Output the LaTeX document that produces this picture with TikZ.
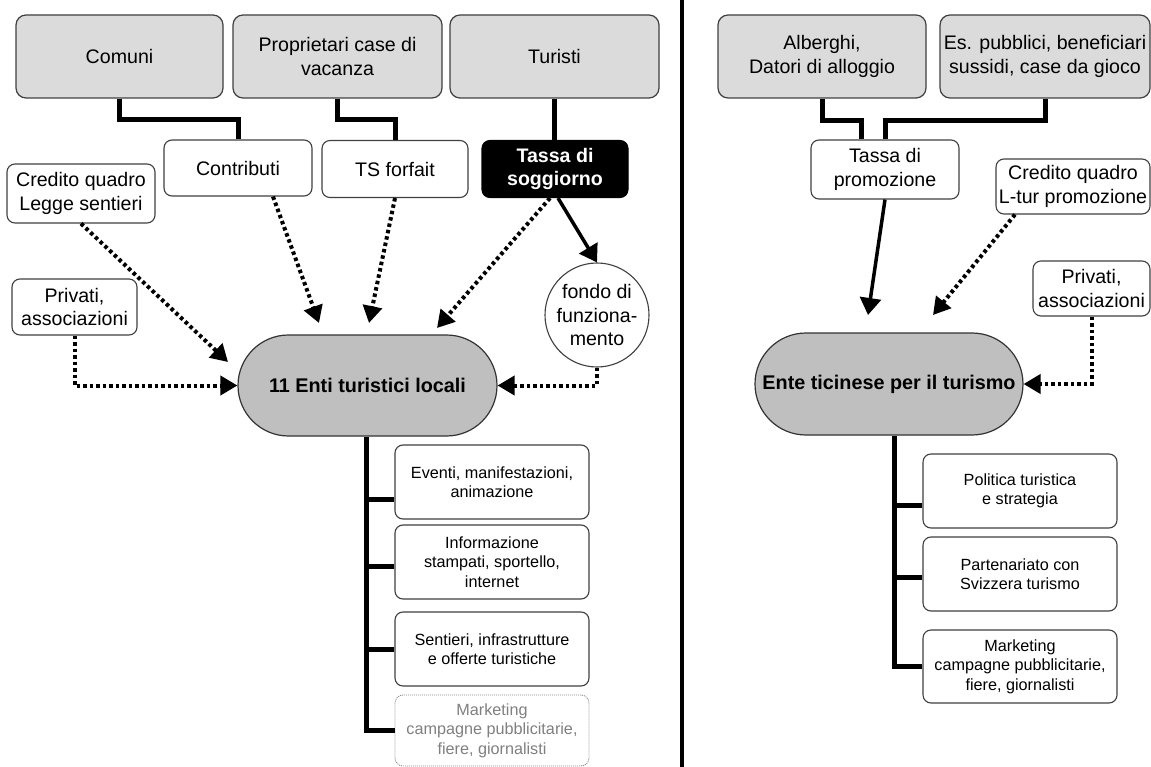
\documentclass[tikz,border=0pt]{standalone}
\usepackage{fontspec}
\setmainfont{Liberation Sans}
\usetikzlibrary{arrows.meta,shapes.misc,calc}
\begin{document}
\begin{tikzpicture}[x=1pt,y=-1pt,
  every node/.style={inner sep=0pt, align=center, font=\fontsize{19.6}{23.5}\selectfont},
  gbox/.style={draw=black!75, line width=1.2pt, fill=black!14, rounded corners=10pt},
  wbox/.style={draw=black!75, line width=1.1pt, fill=white, rounded corners=8pt},
  sbox/.style={wbox, font=\fontsize{16.2}{19.5}\selectfont},
  fadebox/.style={draw=black!45, dash pattern=on 1pt off 1pt, line width=0.9pt, fill=white, rounded corners=8pt, text=black!50, font=\fontsize{16.2}{19.5}\selectfont},
  blackbox/.style={draw=black, line width=1.1pt, fill=black, text=white, rounded corners=8pt, font=\bfseries\fontsize{19.6}{23.5}\selectfont},
  stad/.style={rounded rectangle, draw=black!80, line width=1.2pt, fill=black!25, font=\bfseries\fontsize{19.8}{23.5}\selectfont},
  tree/.style={line width=5pt, line join=miter},
  solidar/.style={line width=3.5pt, -{Triangle[length=17pt,width=21pt]}},
  dotar/.style={line width=4pt, dash pattern=on 3.5pt off 3pt, -{Triangle[length=17pt,width=19pt]}},
]
\useasboundingbox[fill=white] (0,0) rectangle (1151,767);

% divider
\coordinate (dtop) at (682,0);
\coordinate (dbot) at (682,767);
\draw[line width=4pt] (dtop) -- (dbot);

% top row
\node[gbox, minimum width=207pt, minimum height=83pt] (comuni) at (119.5,56.5) {Comuni};
\node[gbox, minimum width=209pt, minimum height=83pt] (propr) at (337.5,56.5) {Proprietari case di\\vacanza};
\node[gbox, minimum width=209pt, minimum height=83pt] (turisti) at (554.5,56.5) {Turisti};
\node[gbox, minimum width=208pt, minimum height=83pt] (alberghi) at (822,56.5) {Alberghi,\\Datori di alloggio};
\node[gbox, minimum width=210pt, minimum height=83pt] (espub) at (1045,56.5) {Es. pubblici, beneficiari\\sussidi, case da gioco};

% second row
\node[wbox, minimum width=148pt, minimum height=56pt] (contributi) at (238,168) {Contributi};
\node[wbox, minimum width=146pt, minimum height=57pt] (tsf) at (395,169) {TS forfait};
\node[blackbox, minimum width=146pt, minimum height=57pt] (tassas) at (555,169) {Tassa di\\soggiorno};
\node[wbox, minimum width=148pt, minimum height=59pt] (tassap) at (885,169.5) {Tassa di\\promozione};
\node[wbox, minimum width=154pt, minimum height=55pt] (credL) at (1073,186.5) {Credito quadro\\L-tur promozione};
\node[wbox, minimum width=117pt, minimum height=55pt] (privR) at (1091.5,288.5) {Privati,\\associazioni};
\node[wbox, minimum width=148pt, minimum height=59pt] (legge) at (81,193.5) {Credito quadro\\Legge sentieri};
\node[wbox, minimum width=125pt, minimum height=56pt] (privL) at (74.5,307) {Privati,\\associazioni};
\node[circle, draw=black!75, line width=1.1pt, fill=white, minimum size=104pt] (fondo) at (597,315) {fondo di\\funziona-\\mento};

% central stadiums
\node[stad, minimum width=259pt, minimum height=101pt] (enti) at (367.5,385.5) {11 Enti turistici locali};
\node[stad, minimum width=268pt, minimum height=102pt] (ente) at (889,384) {Ente ticinese per il turismo};

% bottom-left boxes
\node[sbox, minimum width=194pt, minimum height=74pt] (eventi) at (492,482) {Eventi, manifestazioni,\\animazione};
\node[sbox, minimum width=194pt, minimum height=74pt] (info) at (492,562) {Informazione\\stampati, sportello,\\internet};
\node[sbox, minimum width=194pt, minimum height=74pt] (sentieri) at (492,649) {Sentieri, infrastrutture\\e offerte turistiche};
\node[fadebox, minimum width=194pt, minimum height=71pt] (mkL) at (492,730.5) {Marketing\\campagne pubblicitarie,\\fiere, giornalisti};

% bottom-right boxes
\node[sbox, minimum width=194pt, minimum height=74pt] (politica) at (1020,491) {Politica turistica\\e strategia};
\node[sbox, minimum width=194pt, minimum height=74pt] (parten) at (1020,574) {Partenariato con\\Svizzera turismo};
\node[sbox, minimum width=194pt, minimum height=73pt] (mkR) at (1020,666.5) {Marketing\\campagne pubblicitarie,\\fiere, giornalisti};

% top tree connectors
\draw[tree] (comuni.south) -- ++(0,21) -| (contributi.north);
\draw[tree] (propr.south) -- ++(0,21) -| (tsf.north);
\draw[tree] (turisti.south) -- (turisti.south |- tassas.north);
\draw[tree] (alberghi.south) -- ++(0,22) -| ([xshift=-24pt]tassap.north);
\draw[tree] (espub.south) -- ++(0,22) -| (tassap.north);

% arrows into left stadium
\draw[dotar] (legge.south) -- ($(enti.center)+(-139.5,-23.5)$);
\draw[dotar] ([xshift=35pt]contributi.south) -- ($(enti.center)+(-48.5,-62.5)$);
\draw[dotar] (tsf.south) -- ($(enti.center)+(1.5,-62.5)$);
\draw[dotar] ([xshift=-5pt]tassas.south) -- ($(enti.center)+(69.5,-57.5)$);
\draw[dotar] (privL.south) |- (enti.west);
\draw[dotar] (fondo.south) |- (enti.east);
\draw[solidar] ([xshift=3pt]tassas.south) -- (fondo.north);

% arrows into right stadium
\draw[solidar] (tassap.south) -- ($(ente.center)+(-21,-69)$);
\draw[dotar] ([xshift=-58pt]credL.south) -- ($(ente.center)+(44,-69)$);
\draw[dotar] (privR.south) |- (ente.east);

% left trunk
\coordinate (lt) at ([xshift=-1.5pt]enti.south);
\coordinate (bev) at ($(eventi.west)+(0,17)$);
\coordinate (bin) at ($(info.west)+(0,4)$);
\draw[tree] (lt) |- (mkL.west);
\draw[tree] (lt |- bev) -- (bev);
\draw[tree] (lt |- bin) -- (bin);
\draw[tree] (lt |- sentieri.west) -- (sentieri.west);

% right trunk
\coordinate (rt) at ([xshift=5pt]ente.south);
\coordinate (bpo) at ($(politica.west)+(0,14)$);
\coordinate (bpa) at ($(parten.west)+(0,3)$);
\draw[tree] (rt) |- (mkR.west);
\draw[tree] (rt |- bpo) -- (bpo);
\draw[tree] (rt |- bpa) -- (bpa);
\end{tikzpicture}
\end{document}
